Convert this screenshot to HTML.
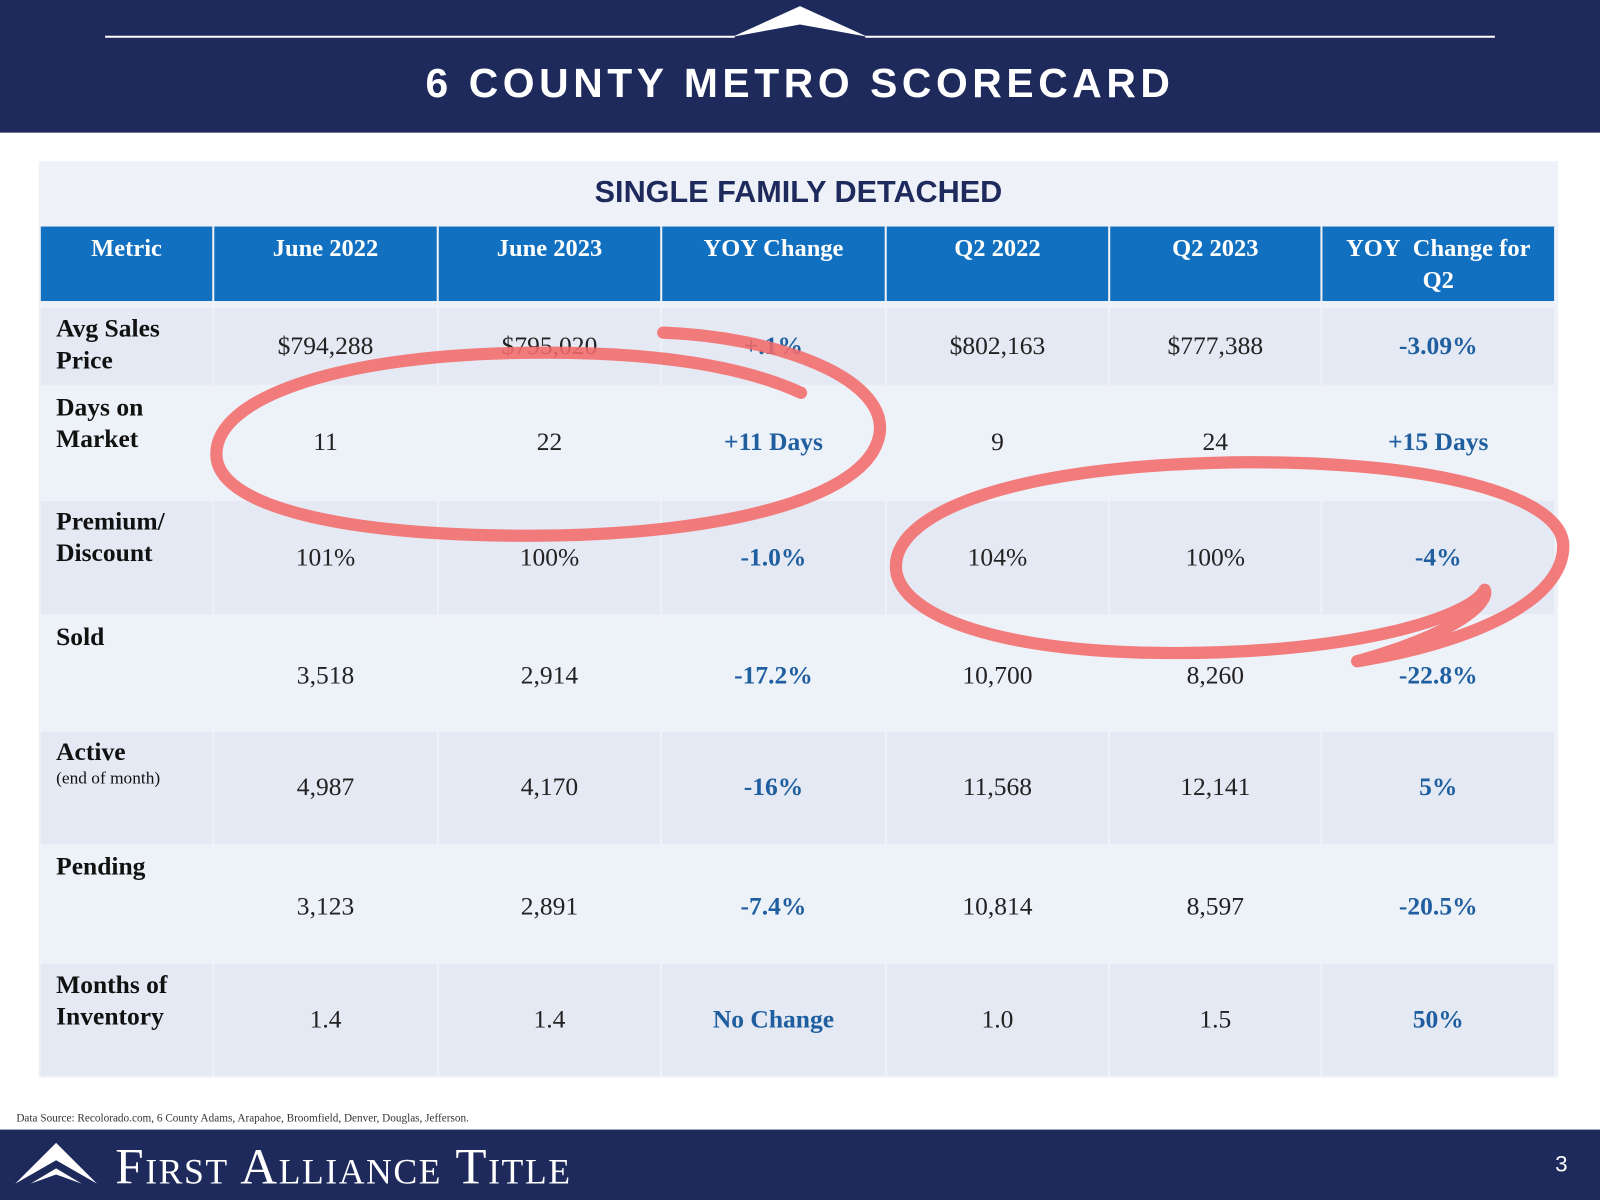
<!DOCTYPE html>
<html><head><meta charset="utf-8">
<style>
html,body{margin:0;padding:0;width:1600px;height:1200px;overflow:hidden;background:#fff;}
#stage{position:absolute;left:0;top:0;width:1568px;height:1176px;transform:scale(1.020408);transform-origin:0 0;font-family:"Liberation Serif",serif;}
.abs{position:absolute;}
#hdr{left:0;top:0;width:1568px;height:130px;background:#1f2a5c;}
#title{left:0;top:60px;width:1568px;text-align:center;color:#fff;font-family:"Liberation Sans",sans-serif;font-weight:bold;font-size:40px;letter-spacing:4.5px;}
#panel{left:38px;top:158px;width:1489px;height:898px;background:#eef2f8;}
#sub{left:38px;top:172px;width:1489px;text-align:center;color:#1f2a5c;font-family:"Liberation Sans",sans-serif;font-weight:bold;font-size:30px;}
.cell{position:absolute;box-sizing:border-box;display:flex;align-items:center;justify-content:center;font-size:25px;color:#222;}
.hcell{background:#1270c0;color:#fff;font-weight:bold;align-items:flex-start;padding-top:7px;text-align:center;line-height:31px;font-size:24px;}
.lab{display:block;padding:5px 0 0 15px;font-weight:bold;line-height:31px;color:#111;}
.chg{color:#1f5fa0;font-weight:bold;}
#ftr{left:0;top:1107px;width:1568px;height:69px;background:#1f2a5c;}
</style></head><body>
<div id="stage">
<div id="hdr" class="abs"></div>
<svg class="abs" style="left:0;top:0" width="1568" height="130">
<line x1="103" y1="36" x2="720" y2="36" stroke="#fff" stroke-width="2"/>
<line x1="848" y1="36" x2="1465" y2="36" stroke="#fff" stroke-width="2"/>
<polygon points="718,36 784,6 850,36 784,24" fill="#fff"/>
</svg>
<div id="title" class="abs">6 COUNTY METRO SCORECARD</div>
<div id="panel" class="abs"></div>
<div id="sub" class="abs">SINGLE FAMILY DETACHED</div>
<div id="tbl"></div>
<svg class="abs" style="left:0;top:0" width="1568" height="1176">
<g fill="none" stroke="#f26a6a" stroke-opacity="0.88" stroke-width="12" stroke-linecap="round">
<path d="M650,326 C760,330 870,370 862,425 C852,490 700,525 520,525 C330,525 212,495 212,445 C212,390 330,350 500,346 C620,343 720,355 785,385"/>
<path d="M1330,648 C1430,620 1460,590 1455,578 M1455,578 C1440,605 1330,640 1150,640 C970,640 878,600 878,555 C878,500 1000,455 1220,453 C1420,452 1532,490 1532,535 C1532,590 1440,630 1330,648"/>
</g>
</svg>
<div class="abs" style="left:16px;top:1090px;font-size:11px;color:#333">Data Source: Recolorado.com, 6 County Adams, Arapahoe, Broomfield, Denver, Douglas, Jefferson.</div>
<div id="ftr" class="abs"></div>
<svg class="abs" style="left:10px;top:1115px" width="90" height="55">
<polygon points="5,45 45,5 85,45 45,22" fill="#fff"/>
<polygon points="20,45 45,30 70,45 45,36" fill="#fff"/>
</svg>
<div class="abs" style="left:113px;top:1114px;color:#fff;font-size:50px;font-variant:small-caps;letter-spacing:1.5px">First Alliance Title</div>
<div class="abs" style="left:1524px;top:1128px;color:#fff;font-family:'Liberation Sans',sans-serif;font-size:22px">3</div>
</div>
<script>
const colX=[40,210,430,649,869,1088,1296,1525];
const headers=["Metric","June 2022","June 2023","YOY Change","Q2 2022","Q2 2023","YOY&nbsp; Change for<br>Q2"];
const rowY=[302,379,491,604,717,829,945,1056];
const labels=["Avg Sales<br>Price","Days on<br>Market","Premium/<br>Discount","Sold","Active<br><span style='font-weight:normal;font-size:17px;line-height:20px;display:block'>(end of month)</span>","Pending","Months of<br>Inventory"];
const jun22=["$794,288","11","101%","3,518","4,987","3,123","1.4"];
const jun23=["$795,020","22","100%","2,914","4,170","2,891","1.4"];
const yoy=["+.1%","+11 Days","-1.0%","-17.2%","-16%","-7.4%","No Change"];
const q22=["$802,163","9","104%","10,700","11,568","10,814","1.0"];
const q23=["$777,388","24","100%","8,260","12,141","8,597","1.5"];
const yoyQ=["-3.09%","+15 Days","-4%","-22.8%","5%","-20.5%","50%"];
const tbl=document.getElementById('tbl');
function mk(x,y,w,h,cls,html,bg){
  const d=document.createElement('div');
  d.className='cell '+cls;
  d.style.left=x+'px';d.style.top=y+'px';d.style.width=w+'px';d.style.height=h+'px';
  if(bg)d.style.background=bg;
  d.innerHTML=html;
  tbl.appendChild(d);return d;
}
for(let c=0;c<7;c++){
  const d=mk(colX[c],222,colX[c+1]-colX[c]-2,73,'hcell',headers[c]);
  
  
}
const cols=[labels,jun22,jun23,yoy,q22,q23,yoyQ];
for(let r=0;r<7;r++){
  const bg=r%2===0?'#e4e9f3':'#edf1f8';
  for(let c=0;c<7;c++){
    const cls=c===0?'lab':(c===3||c===6?'chg':'');
    const y=rowY[r],h=rowY[r+1]-rowY[r]-2;
    const d=mk(colX[c],y,colX[c+1]-colX[c]-2,h,cls,cols[c][r],bg);
    if(c>0&&(r===3||r===5))d.style.paddingTop='6px';
    
    
  }
}
</script>
</body></html>
